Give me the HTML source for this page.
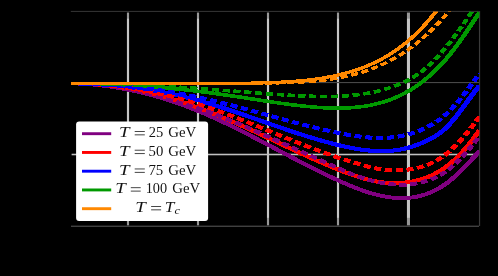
<!DOCTYPE html>
<html><head><meta charset="utf-8"><title>plot</title>
<style>
html,body{margin:0;padding:0;background:#000;}
body{width:498px;height:276px;overflow:hidden;position:relative;font-family:"Liberation Serif",serif;}
svg{position:absolute;left:0;top:0;display:block;will-change:transform;}
.t{font-family:"Liberation Serif",serif;font-size:13.8px;fill:#000;}
.i{font-style:italic;}
</style></head><body>
<svg width="498" height="276" viewBox="0 0 498 276">
<defs>
<clipPath id="ax"><rect x="71" y="11.5" width="408.4" height="215"/></clipPath>
<clipPath id="ax2"><path d="M71,82 H240 V11.5 H479.4 V226.5 H71 Z"/></clipPath>
</defs>
<rect x="0" y="0" width="498" height="276" fill="#000"/>
<!-- grid -->
<rect x="126.92" y="12.6" width="2.15" height="212.8" fill="#c6c6c6"/>
<rect x="196.93" y="12.6" width="2.15" height="212.8" fill="#c6c6c6"/>
<rect x="266.93" y="12.6" width="2.15" height="212.8" fill="#c6c6c6"/>
<rect x="336.93" y="12.6" width="2.15" height="212.8" fill="#c6c6c6"/>
<rect x="406.93" y="12.6" width="3.05" height="212.8" fill="#c4c4c4"/>
<rect x="71" y="12.6" width="408" height="6.1" fill="#000" opacity="0.23"/>
<rect x="71" y="217.8" width="408" height="7.6" fill="#000" opacity="0.23"/>
<rect x="71.6" y="153.72" width="407.6" height="1.56" fill="#c0c0c0"/>
<rect x="71" y="82" width="408.4" height="1.1" fill="#484848"/>
<!-- frame remnants -->
<rect x="70.8" y="10.9" width="408.6" height="1.1" fill="#303030"/>
<rect x="71" y="225.6" width="408" height="1.35" fill="#444444"/>
<rect x="478.95" y="11" width="1.2" height="215" fill="#3a3a3a"/>
<g clip-path="url(#ax2)" shape-rendering="crispEdges"><g transform="scale(1.3,1)">
<path d="M54.62,83.30 L56.15,83.36 L57.69,83.42 L59.23,83.51 L60.77,83.60 L62.31,83.70 L63.85,83.82 L65.38,83.95 L66.92,84.09 L68.46,84.25 L70.00,84.41 L71.54,84.59 L73.08,84.78 L74.62,84.98 L76.15,85.20 L77.69,85.42 L79.23,85.66 L80.77,85.91 L82.31,86.17 L83.85,86.45 L85.38,86.73 L86.92,87.03 L88.46,87.34 L90.00,87.67 L91.54,88.00 L93.08,88.35 L94.62,88.71 L96.15,89.08 L97.69,89.46 L99.23,89.86 L100.77,90.27 L102.31,90.69 L103.85,91.12 L105.38,91.56 L106.92,92.02 L108.46,92.49 L110.00,92.97 L111.54,93.46 L113.08,93.97 L114.62,94.48 L116.15,95.01 L117.69,95.55 L119.23,96.11 L120.77,96.67 L122.31,97.25 L123.85,97.84 L125.38,98.44 L126.92,99.05 L128.46,99.68 L130.00,100.32 L131.54,100.97 L133.08,101.63 L134.62,102.30 L136.15,102.99 L137.69,103.69 L139.23,104.40 L140.77,105.12 L142.31,105.85 L143.85,106.60 L145.38,107.36 L146.92,108.13 L148.46,108.91 L150.00,109.71 L151.54,110.52 L153.08,111.34 L154.62,112.17 L156.15,113.01 L157.69,113.86 L159.23,114.73 L160.77,115.61 L162.31,116.49 L163.85,117.39 L165.38,118.29 L166.92,119.21 L168.46,120.14 L170.00,121.07 L171.54,122.01 L173.08,122.96 L174.62,123.92 L176.15,124.89 L177.69,125.86 L179.23,126.84 L180.77,127.83 L182.31,128.82 L183.85,129.82 L185.38,130.83 L186.92,131.84 L188.46,132.86 L190.00,133.88 L191.54,134.90 L193.08,135.93 L194.62,136.97 L196.15,138.00 L197.69,139.04 L199.23,140.09 L200.77,141.14 L202.31,142.18 L203.85,143.24 L205.38,144.29 L206.92,145.34 L208.46,146.40 L210.00,147.45 L211.54,148.51 L213.08,149.57 L214.62,150.62 L216.15,151.68 L217.69,152.74 L219.23,153.79 L220.77,154.85 L222.31,155.90 L223.85,156.95 L225.38,158.00 L226.92,159.04 L228.46,160.08 L230.00,161.12 L231.54,162.16 L233.08,163.19 L234.62,164.22 L236.15,165.24 L237.69,166.26 L239.23,167.27 L240.77,168.28 L242.31,169.29 L243.85,170.28 L245.38,171.27 L246.92,172.26 L248.46,173.24 L250.00,174.21 L251.54,175.17 L253.08,176.12 L254.62,177.07 L256.15,178.01 L257.69,178.94 L259.23,179.86 L260.77,180.77 L262.31,181.67 L263.85,182.56 L265.38,183.44 L266.92,184.30 L268.46,185.15 L270.00,185.99 L271.54,186.80 L273.08,187.60 L274.62,188.38 L276.15,189.13 L277.69,189.87 L279.23,190.58 L280.77,191.27 L282.31,191.93 L283.85,192.56 L285.38,193.17 L286.92,193.75 L288.46,194.29 L290.00,194.81 L291.54,195.29 L293.08,195.74 L294.62,196.15 L296.15,196.53 L297.69,196.87 L299.23,197.17 L300.77,197.43 L302.31,197.65 L303.85,197.83 L305.38,197.96 L306.92,198.05 L308.46,198.09 L310.00,198.08 L311.54,198.03 L313.08,197.93 L314.62,197.78 L316.15,197.57 L317.69,197.31 L319.23,196.99 L320.77,196.62 L322.31,196.19 L323.85,195.70 L325.38,195.14 L326.92,194.52 L328.46,193.83 L330.00,193.08 L331.54,192.25 L333.08,191.36 L334.62,190.39 L336.15,189.34 L337.69,188.22 L339.23,187.02 L340.77,185.74 L342.31,184.38 L343.85,182.93 L345.38,181.40 L346.92,179.80 L348.46,178.13 L350.00,176.38 L351.54,174.57 L353.08,172.70 L354.62,170.77 L356.15,168.78 L357.69,166.75 L359.23,164.66 L360.77,162.54 L362.31,160.37 L363.85,158.16 L365.38,155.93 L366.92,153.66 L368.46,151.37 L368.85,150.79" fill="none" stroke="#800080" stroke-width="3.9" stroke-linejoin="round"/>
<path d="M54.62,83.30 L56.15,83.30 L57.69,83.32 L59.23,83.35 L60.77,83.40 L62.31,83.45 L63.85,83.52 L65.38,83.61 L66.92,83.70 L68.46,83.81 L70.00,83.93 L71.54,84.06 L73.08,84.21 L74.62,84.37 L76.15,84.54 L77.69,84.73 L79.23,84.92 L80.77,85.13 L82.31,85.35 L83.85,85.59 L85.38,85.83 L86.92,86.09 L88.46,86.36 L90.00,86.64 L91.54,86.94 L93.08,87.24 L94.62,87.56 L96.15,87.89 L97.69,88.23 L99.23,88.59 L100.77,88.95 L102.31,89.33 L103.85,89.72 L105.38,90.12 L106.92,90.53 L108.46,90.96 L110.00,91.39 L111.54,91.84 L113.08,92.30 L114.62,92.77 L116.15,93.25 L117.69,93.74 L119.23,94.25 L120.77,94.76 L122.31,95.29 L123.85,95.82 L125.38,96.37 L126.92,96.93 L128.46,97.50 L130.00,98.08 L131.54,98.67 L133.08,99.27 L134.62,99.88 L136.15,100.51 L137.69,101.14 L139.23,101.78 L140.77,102.44 L142.31,103.10 L143.85,103.78 L145.38,104.47 L146.92,105.16 L148.46,105.87 L150.00,106.58 L151.54,107.31 L153.08,108.05 L154.62,108.80 L156.15,109.55 L157.69,110.32 L159.23,111.09 L160.77,111.88 L162.31,112.67 L163.85,113.47 L165.38,114.28 L166.92,115.10 L168.46,115.92 L170.00,116.76 L171.54,117.60 L173.08,118.45 L174.62,119.30 L176.15,120.16 L177.69,121.03 L179.23,121.90 L180.77,122.78 L182.31,123.67 L183.85,124.56 L185.38,125.45 L186.92,126.35 L188.46,127.25 L190.00,128.16 L191.54,129.08 L193.08,129.99 L194.62,130.92 L196.15,131.84 L197.69,132.77 L199.23,133.70 L200.77,134.63 L202.31,135.57 L203.85,136.50 L205.38,137.44 L206.92,138.38 L208.46,139.33 L210.00,140.27 L211.54,141.22 L213.08,142.16 L214.62,143.11 L216.15,144.05 L217.69,145.00 L219.23,145.94 L220.77,146.88 L222.31,147.82 L223.85,148.76 L225.38,149.70 L226.92,150.64 L228.46,151.57 L230.00,152.50 L231.54,153.42 L233.08,154.34 L234.62,155.26 L236.15,156.17 L237.69,157.08 L239.23,157.99 L240.77,158.88 L242.31,159.78 L243.85,160.66 L245.38,161.54 L246.92,162.42 L248.46,163.28 L250.00,164.14 L251.54,164.99 L253.08,165.84 L254.62,166.67 L256.15,167.50 L257.69,168.32 L259.23,169.12 L260.77,169.92 L262.31,170.71 L263.85,171.49 L265.38,172.25 L266.92,173.00 L268.46,173.73 L270.00,174.45 L271.54,175.14 L273.08,175.82 L274.62,176.47 L276.15,177.11 L277.69,177.71 L279.23,178.30 L280.77,178.85 L282.31,179.38 L283.85,179.88 L285.38,180.34 L286.92,180.78 L288.46,181.18 L290.00,181.55 L291.54,181.88 L293.08,182.17 L294.62,182.42 L296.15,182.63 L297.69,182.81 L299.23,182.94 L300.77,183.04 L302.31,183.09 L303.85,183.11 L305.38,183.08 L306.92,183.01 L308.46,182.90 L310.00,182.75 L311.54,182.56 L313.08,182.32 L314.62,182.04 L316.15,181.72 L317.69,181.35 L319.23,180.93 L320.77,180.47 L322.31,179.95 L323.85,179.37 L325.38,178.74 L326.92,178.06 L328.46,177.31 L330.00,176.50 L331.54,175.63 L333.08,174.69 L334.62,173.68 L336.15,172.60 L337.69,171.45 L339.23,170.22 L340.77,168.92 L342.31,167.54 L343.85,166.08 L345.38,164.54 L346.92,162.92 L348.46,161.21 L350.00,159.42 L351.54,157.54 L353.08,155.57 L354.62,153.51 L356.15,151.36 L357.69,149.12 L359.23,146.79 L360.77,144.36 L362.31,141.83 L363.85,139.21 L365.38,136.49 L366.92,133.66 L368.46,130.74 L368.85,129.99" fill="none" stroke="#ff0000" stroke-width="4.0" stroke-linejoin="round"/>
<path d="M54.62,83.30 L56.15,83.33 L57.69,83.36 L59.23,83.40 L60.77,83.45 L62.31,83.51 L63.85,83.57 L65.38,83.64 L66.92,83.71 L68.46,83.80 L70.00,83.89 L71.54,83.99 L73.08,84.09 L74.62,84.20 L76.15,84.32 L77.69,84.45 L79.23,84.59 L80.77,84.73 L82.31,84.88 L83.85,85.03 L85.38,85.20 L86.92,85.37 L88.46,85.55 L90.00,85.74 L91.54,85.94 L93.08,86.14 L94.62,86.35 L96.15,86.57 L97.69,86.80 L99.23,87.03 L100.77,87.28 L102.31,87.53 L103.85,87.79 L105.38,88.05 L106.92,88.33 L108.46,88.62 L110.00,88.91 L111.54,89.21 L113.08,89.52 L114.62,89.84 L116.15,90.16 L117.69,90.50 L119.23,90.84 L120.77,91.20 L122.31,91.56 L123.85,91.93 L125.38,92.31 L126.92,92.69 L128.46,93.09 L130.00,93.49 L131.54,93.91 L133.08,94.33 L134.62,94.76 L136.15,95.21 L137.69,95.66 L139.23,96.12 L140.77,96.59 L142.31,97.06 L143.85,97.55 L145.38,98.05 L146.92,98.56 L148.46,99.07 L150.00,99.60 L151.54,100.13 L153.08,100.68 L154.62,101.23 L156.15,101.80 L157.69,102.37 L159.23,102.95 L160.77,103.54 L162.31,104.14 L163.85,104.74 L165.38,105.35 L166.92,105.97 L168.46,106.60 L170.00,107.23 L171.54,107.87 L173.08,108.51 L174.62,109.16 L176.15,109.82 L177.69,110.48 L179.23,111.15 L180.77,111.82 L182.31,112.49 L183.85,113.17 L185.38,113.85 L186.92,114.53 L188.46,115.22 L190.00,115.91 L191.54,116.60 L193.08,117.30 L194.62,117.99 L196.15,118.69 L197.69,119.39 L199.23,120.09 L200.77,120.78 L202.31,121.48 L203.85,122.18 L205.38,122.88 L206.92,123.58 L208.46,124.28 L210.00,124.97 L211.54,125.67 L213.08,126.36 L214.62,127.05 L216.15,127.74 L217.69,128.42 L219.23,129.11 L220.77,129.79 L222.31,130.46 L223.85,131.13 L225.38,131.80 L226.92,132.46 L228.46,133.12 L230.00,133.77 L231.54,134.41 L233.08,135.05 L234.62,135.69 L236.15,136.32 L237.69,136.94 L239.23,137.55 L240.77,138.16 L242.31,138.76 L243.85,139.35 L245.38,139.93 L246.92,140.51 L248.46,141.07 L250.00,141.63 L251.54,142.18 L253.08,142.71 L254.62,143.24 L256.15,143.76 L257.69,144.27 L259.23,144.76 L260.77,145.25 L262.31,145.72 L263.85,146.18 L265.38,146.63 L266.92,147.06 L268.46,147.47 L270.00,147.87 L271.54,148.25 L273.08,148.61 L274.62,148.95 L276.15,149.27 L277.69,149.57 L279.23,149.85 L280.77,150.10 L282.31,150.32 L283.85,150.52 L285.38,150.69 L286.92,150.84 L288.46,150.96 L290.00,151.04 L291.54,151.09 L293.08,151.12 L294.62,151.11 L296.15,151.06 L297.69,150.98 L299.23,150.86 L300.77,150.71 L302.31,150.52 L303.85,150.28 L305.38,150.01 L306.92,149.70 L308.46,149.34 L310.00,148.94 L311.54,148.50 L313.08,148.01 L314.62,147.48 L316.15,146.89 L317.69,146.26 L319.23,145.59 L320.77,144.87 L322.31,144.10 L323.85,143.28 L325.38,142.42 L326.92,141.51 L328.46,140.56 L330.00,139.55 L331.54,138.51 L333.08,137.40 L334.62,136.23 L336.15,134.97 L337.69,133.61 L339.23,132.14 L340.77,130.53 L342.31,128.77 L343.85,126.86 L345.38,124.79 L346.92,122.59 L348.46,120.27 L350.00,117.85 L351.54,115.34 L353.08,112.75 L354.62,110.11 L356.15,107.42 L357.69,104.70 L359.23,101.97 L360.77,99.24 L362.31,96.52 L363.85,93.83 L365.38,91.19 L366.92,88.61 L368.46,86.11 L368.85,85.50" fill="none" stroke="#0000ff" stroke-width="4.1" stroke-linejoin="round"/>
<path d="M54.62,83.30 L56.15,83.30 L57.69,83.30 L59.23,83.31 L60.77,83.32 L62.31,83.34 L63.85,83.36 L65.38,83.38 L66.92,83.41 L68.46,83.45 L70.00,83.48 L71.54,83.53 L73.08,83.57 L74.62,83.63 L76.15,83.68 L77.69,83.74 L79.23,83.81 L80.77,83.87 L82.31,83.95 L83.85,84.02 L85.38,84.10 L86.92,84.19 L88.46,84.28 L90.00,84.37 L91.54,84.47 L93.08,84.57 L94.62,84.68 L96.15,84.79 L97.69,84.90 L99.23,85.02 L100.77,85.14 L102.31,85.26 L103.85,85.39 L105.38,85.53 L106.92,85.66 L108.46,85.80 L110.00,85.95 L111.54,86.10 L113.08,86.25 L114.62,86.41 L116.15,86.57 L117.69,86.73 L119.23,86.90 L120.77,87.07 L122.31,87.24 L123.85,87.42 L125.38,87.60 L126.92,87.79 L128.46,87.97 L130.00,88.17 L131.54,88.36 L133.08,88.56 L134.62,88.76 L136.15,88.97 L137.69,89.18 L139.23,89.39 L140.77,89.61 L142.31,89.83 L143.85,90.05 L145.38,90.28 L146.92,90.51 L148.46,90.74 L150.00,90.98 L151.54,91.22 L153.08,91.46 L154.62,91.71 L156.15,91.95 L157.69,92.21 L159.23,92.46 L160.77,92.72 L162.31,92.98 L163.85,93.25 L165.38,93.51 L166.92,93.78 L168.46,94.06 L170.00,94.33 L171.54,94.61 L173.08,94.90 L174.62,95.18 L176.15,95.47 L177.69,95.76 L179.23,96.05 L180.77,96.35 L182.31,96.65 L183.85,96.95 L185.38,97.25 L186.92,97.56 L188.46,97.87 L190.00,98.17 L191.54,98.48 L193.08,98.79 L194.62,99.10 L196.15,99.41 L197.69,99.72 L199.23,100.02 L200.77,100.33 L202.31,100.64 L203.85,100.94 L205.38,101.24 L206.92,101.54 L208.46,101.84 L210.00,102.13 L211.54,102.43 L213.08,102.71 L214.62,103.00 L216.15,103.28 L217.69,103.56 L219.23,103.83 L220.77,104.10 L222.31,104.36 L223.85,104.62 L225.38,104.87 L226.92,105.12 L228.46,105.36 L230.00,105.59 L231.54,105.82 L233.08,106.04 L234.62,106.25 L236.15,106.45 L237.69,106.65 L239.23,106.83 L240.77,107.01 L242.31,107.18 L243.85,107.33 L245.38,107.48 L246.92,107.61 L248.46,107.72 L250.00,107.83 L251.54,107.92 L253.08,108.00 L254.62,108.06 L256.15,108.10 L257.69,108.13 L259.23,108.14 L260.77,108.13 L262.31,108.11 L263.85,108.07 L265.38,108.00 L266.92,107.92 L268.46,107.81 L270.00,107.69 L271.54,107.54 L273.08,107.37 L274.62,107.17 L276.15,106.95 L277.69,106.71 L279.23,106.44 L280.77,106.15 L282.31,105.82 L283.85,105.47 L285.38,105.09 L286.92,104.67 L288.46,104.23 L290.00,103.75 L291.54,103.24 L293.08,102.69 L294.62,102.11 L296.15,101.48 L297.69,100.82 L299.23,100.13 L300.77,99.39 L302.31,98.60 L303.85,97.78 L305.38,96.91 L306.92,96.00 L308.46,95.05 L310.00,94.04 L311.54,92.99 L313.08,91.89 L314.62,90.74 L316.15,89.54 L317.69,88.29 L319.23,86.98 L320.77,85.62 L322.31,84.20 L323.85,82.73 L325.38,81.21 L326.92,79.62 L328.46,77.97 L330.00,76.27 L331.54,74.50 L333.08,72.67 L334.62,70.78 L336.15,68.81 L337.69,66.78 L339.23,64.68 L340.77,62.50 L342.31,60.24 L343.85,57.91 L345.38,55.50 L346.92,53.01 L348.46,50.46 L350.00,47.84 L351.54,45.16 L353.08,42.42 L354.62,39.63 L356.15,36.78 L357.69,33.88 L359.23,30.95 L360.77,27.97 L362.31,24.97 L363.85,21.94 L365.38,18.89 L366.92,15.83 L368.46,12.76 L368.85,11.99" fill="none" stroke="#009900" stroke-width="3.6" stroke-linejoin="round"/>
<path d="M54.62,83.30 L56.15,83.30 L57.69,83.32 L59.23,83.35 L60.77,83.40 L62.31,83.46 L63.85,83.54 L65.38,83.62 L66.92,83.73 L68.46,83.84 L70.00,83.97 L71.54,84.12 L73.08,84.27 L74.62,84.44 L76.15,84.63 L77.69,84.82 L79.23,85.03 L80.77,85.26 L82.31,85.49 L83.85,85.74 L85.38,86.00 L86.92,86.27 L88.46,86.56 L90.00,86.86 L91.54,87.17 L93.08,87.49 L94.62,87.82 L96.15,88.17 L97.69,88.53 L99.23,88.89 L100.77,89.27 L102.31,89.67 L103.85,90.07 L105.38,90.48 L106.92,90.91 L108.46,91.35 L110.00,91.79 L111.54,92.25 L113.08,92.72 L114.62,93.20 L116.15,93.69 L117.69,94.19 L119.23,94.70 L120.77,95.22 L122.31,95.75 L123.85,96.29 L125.38,96.84 L126.92,97.40 L128.46,97.97 L130.00,98.55 L131.54,99.14 L133.08,99.74 L134.62,100.34 L136.15,100.96 L137.69,101.58 L139.23,102.22 L140.77,102.86 L142.31,103.51 L143.85,104.17 L145.38,104.84 L146.92,105.51 L148.46,106.20 L150.00,106.89 L151.54,107.59 L153.08,108.30 L154.62,109.02 L156.15,109.74 L157.69,110.47 L159.23,111.21 L160.77,111.95 L162.31,112.71 L163.85,113.47 L165.38,114.23 L166.92,115.01 L168.46,115.78 L170.00,116.57 L171.54,117.36 L173.08,118.16 L174.62,118.96 L176.15,119.77 L177.69,120.58 L179.23,121.40 L180.77,122.23 L182.31,123.06 L183.85,123.89 L185.38,124.73 L186.92,125.58 L188.46,126.43 L190.00,127.28 L191.54,128.14 L193.08,129.00 L194.62,129.86 L196.15,130.73 L197.69,131.60 L199.23,132.48 L200.77,133.36 L202.31,134.24 L203.85,135.12 L205.38,136.01 L206.92,136.90 L208.46,137.79 L210.00,138.69 L211.54,139.59 L213.08,140.49 L214.62,141.39 L216.15,142.29 L217.69,143.19 L219.23,144.10 L220.77,145.01 L222.31,145.92 L223.85,146.83 L225.38,147.74 L226.92,148.65 L228.46,149.56 L230.00,150.47 L231.54,151.38 L233.08,152.30 L234.62,153.21 L236.15,154.12 L237.69,155.03 L239.23,155.94 L240.77,156.85 L242.31,157.76 L243.85,158.67 L245.38,159.58 L246.92,160.49 L248.46,161.39 L250.00,162.29 L251.54,163.20 L253.08,164.10 L254.62,164.99 L256.15,165.89 L257.69,166.78 L259.23,167.67 L260.77,168.56 L262.31,169.45 L263.85,170.32 L265.38,171.19 L266.92,172.05 L268.46,172.89 L270.00,173.71 L271.54,174.51 L273.08,175.29 L274.62,176.03 L276.15,176.76 L277.69,177.44 L279.23,178.10 L280.77,178.73 L282.31,179.33 L283.85,179.90 L285.38,180.44 L286.92,180.95 L288.46,181.42 L290.00,181.87 L291.54,182.29 L293.08,182.69 L294.62,183.05 L296.15,183.38 L297.69,183.68 L299.23,183.94 L300.77,184.17 L302.31,184.37 L303.85,184.52 L305.38,184.64 L306.92,184.71 L308.46,184.75 L310.00,184.73 L311.54,184.68 L313.08,184.58 L314.62,184.43 L316.15,184.23 L317.69,183.98 L319.23,183.68 L320.77,183.33 L322.31,182.92 L323.85,182.47 L325.38,181.95 L326.92,181.39 L328.46,180.77 L330.00,180.09 L331.54,179.35 L333.08,178.55 L334.62,177.69 L336.15,176.75 L337.69,175.72 L339.23,174.61 L340.77,173.41 L342.31,172.10 L343.85,170.69 L345.38,169.17 L346.92,167.56 L348.46,165.84 L350.00,164.04 L351.54,162.15 L353.08,160.17 L354.62,158.11 L356.15,155.98 L357.69,153.77 L359.23,151.50 L360.77,149.16 L362.31,146.77 L363.85,144.31 L365.38,141.81 L366.92,139.25 L368.46,136.65 L368.85,136.00" fill="none" stroke="#800080" stroke-width="3.9" stroke-dasharray="5.55 2.8" stroke-linejoin="round"/>
<path d="M54.62,83.30 L56.15,83.33 L57.69,83.37 L59.23,83.42 L60.77,83.48 L62.31,83.55 L63.85,83.63 L65.38,83.72 L66.92,83.81 L68.46,83.92 L70.00,84.03 L71.54,84.16 L73.08,84.29 L74.62,84.44 L76.15,84.59 L77.69,84.75 L79.23,84.92 L80.77,85.10 L82.31,85.29 L83.85,85.49 L85.38,85.70 L86.92,85.92 L88.46,86.14 L90.00,86.38 L91.54,86.63 L93.08,86.88 L94.62,87.15 L96.15,87.42 L97.69,87.71 L99.23,88.00 L100.77,88.31 L102.31,88.62 L103.85,88.94 L105.38,89.27 L106.92,89.62 L108.46,89.97 L110.00,90.33 L111.54,90.70 L113.08,91.08 L114.62,91.47 L116.15,91.87 L117.69,92.28 L119.23,92.70 L120.77,93.13 L122.31,93.56 L123.85,94.01 L125.38,94.47 L126.92,94.94 L128.46,95.42 L130.00,95.90 L131.54,96.40 L133.08,96.91 L134.62,97.43 L136.15,97.95 L137.69,98.49 L139.23,99.04 L140.77,99.59 L142.31,100.16 L143.85,100.73 L145.38,101.32 L146.92,101.92 L148.46,102.52 L150.00,103.14 L151.54,103.77 L153.08,104.40 L154.62,105.05 L156.15,105.70 L157.69,106.37 L159.23,107.04 L160.77,107.73 L162.31,108.42 L163.85,109.12 L165.38,109.82 L166.92,110.54 L168.46,111.26 L170.00,111.99 L171.54,112.73 L173.08,113.47 L174.62,114.22 L176.15,114.98 L177.69,115.74 L179.23,116.51 L180.77,117.28 L182.31,118.06 L183.85,118.84 L185.38,119.62 L186.92,120.41 L188.46,121.21 L190.00,122.01 L191.54,122.81 L193.08,123.61 L194.62,124.42 L196.15,125.23 L197.69,126.04 L199.23,126.85 L200.77,127.67 L202.31,128.49 L203.85,129.30 L205.38,130.12 L206.92,130.94 L208.46,131.76 L210.00,132.58 L211.54,133.40 L213.08,134.22 L214.62,135.04 L216.15,135.85 L217.69,136.67 L219.23,137.48 L220.77,138.29 L222.31,139.10 L223.85,139.91 L225.38,140.72 L226.92,141.52 L228.46,142.32 L230.00,143.11 L231.54,143.90 L233.08,144.69 L234.62,145.47 L236.15,146.25 L237.69,147.02 L239.23,147.79 L240.77,148.56 L242.31,149.31 L243.85,150.06 L245.38,150.81 L246.92,151.55 L248.46,152.28 L250.00,153.00 L251.54,153.72 L253.08,154.43 L254.62,155.13 L256.15,155.82 L257.69,156.51 L259.23,157.18 L260.77,157.85 L262.31,158.51 L263.85,159.16 L265.38,159.80 L266.92,160.43 L268.46,161.06 L270.00,161.67 L271.54,162.28 L273.08,162.89 L274.62,163.48 L276.15,164.07 L277.69,164.66 L279.23,165.23 L280.77,165.79 L282.31,166.33 L283.85,166.85 L285.38,167.34 L286.92,167.81 L288.46,168.24 L290.00,168.64 L291.54,169.00 L293.08,169.32 L294.62,169.60 L296.15,169.84 L297.69,170.03 L299.23,170.18 L300.77,170.29 L302.31,170.36 L303.85,170.39 L305.38,170.37 L306.92,170.32 L308.46,170.22 L310.00,170.09 L311.54,169.91 L313.08,169.70 L314.62,169.45 L316.15,169.16 L317.69,168.82 L319.23,168.44 L320.77,168.00 L322.31,167.52 L323.85,166.98 L325.38,166.37 L326.92,165.71 L328.46,164.98 L330.00,164.18 L331.54,163.31 L333.08,162.36 L334.62,161.34 L336.15,160.23 L337.69,159.04 L339.23,157.76 L340.77,156.39 L342.31,154.92 L343.85,153.36 L345.38,151.70 L346.92,149.95 L348.46,148.11 L350.00,146.18 L351.54,144.16 L353.08,142.07 L354.62,139.90 L356.15,137.64 L357.69,135.32 L359.23,132.92 L360.77,130.46 L362.31,127.93 L363.85,125.33 L365.38,122.68 L366.92,119.96 L368.46,117.19 L368.85,116.49" fill="none" stroke="#ff0000" stroke-width="4.0" stroke-dasharray="5.55 2.8" stroke-linejoin="round"/>
<path d="M54.62,83.30 L56.15,83.33 L57.69,83.37 L59.23,83.42 L60.77,83.47 L62.31,83.52 L63.85,83.58 L65.38,83.65 L66.92,83.72 L68.46,83.80 L70.00,83.88 L71.54,83.97 L73.08,84.06 L74.62,84.16 L76.15,84.26 L77.69,84.38 L79.23,84.49 L80.77,84.61 L82.31,84.74 L83.85,84.88 L85.38,85.02 L86.92,85.16 L88.46,85.31 L90.00,85.47 L91.54,85.63 L93.08,85.80 L94.62,85.98 L96.15,86.16 L97.69,86.35 L99.23,86.54 L100.77,86.74 L102.31,86.95 L103.85,87.16 L105.38,87.38 L106.92,87.61 L108.46,87.84 L110.00,88.08 L111.54,88.32 L113.08,88.57 L114.62,88.83 L116.15,89.09 L117.69,89.37 L119.23,89.64 L120.77,89.93 L122.31,90.22 L123.85,90.51 L125.38,90.82 L126.92,91.13 L128.46,91.44 L130.00,91.77 L131.54,92.10 L133.08,92.44 L134.62,92.78 L136.15,93.13 L137.69,93.49 L139.23,93.86 L140.77,94.23 L142.31,94.61 L143.85,95.00 L145.38,95.39 L146.92,95.79 L148.46,96.20 L150.00,96.61 L151.54,97.04 L153.08,97.47 L154.62,97.90 L156.15,98.35 L157.69,98.80 L159.23,99.25 L160.77,99.72 L162.31,100.19 L163.85,100.66 L165.38,101.14 L166.92,101.63 L168.46,102.12 L170.00,102.62 L171.54,103.12 L173.08,103.63 L174.62,104.14 L176.15,104.65 L177.69,105.17 L179.23,105.69 L180.77,106.22 L182.31,106.75 L183.85,107.28 L185.38,107.82 L186.92,108.35 L188.46,108.89 L190.00,109.44 L191.54,109.98 L193.08,110.53 L194.62,111.07 L196.15,111.62 L197.69,112.17 L199.23,112.72 L200.77,113.28 L202.31,113.83 L203.85,114.38 L205.38,114.93 L206.92,115.48 L208.46,116.04 L210.00,116.59 L211.54,117.14 L213.08,117.69 L214.62,118.23 L216.15,118.78 L217.69,119.33 L219.23,119.87 L220.77,120.41 L222.31,120.95 L223.85,121.48 L225.38,122.02 L226.92,122.54 L228.46,123.07 L230.00,123.59 L231.54,124.11 L233.08,124.63 L234.62,125.14 L236.15,125.65 L237.69,126.15 L239.23,126.65 L240.77,127.14 L242.31,127.63 L243.85,128.11 L245.38,128.59 L246.92,129.06 L248.46,129.52 L250.00,129.98 L251.54,130.43 L253.08,130.88 L254.62,131.32 L256.15,131.75 L257.69,132.17 L259.23,132.59 L260.77,133.00 L262.31,133.39 L263.85,133.79 L265.38,134.16 L266.92,134.53 L268.46,134.89 L270.00,135.23 L271.54,135.56 L273.08,135.87 L274.62,136.16 L276.15,136.43 L277.69,136.69 L279.23,136.93 L280.77,137.14 L282.31,137.33 L283.85,137.50 L285.38,137.64 L286.92,137.76 L288.46,137.85 L290.00,137.91 L291.54,137.95 L293.08,137.95 L294.62,137.92 L296.15,137.86 L297.69,137.77 L299.23,137.64 L300.77,137.48 L302.31,137.28 L303.85,137.04 L305.38,136.76 L306.92,136.45 L308.46,136.09 L310.00,135.69 L311.54,135.25 L313.08,134.76 L314.62,134.23 L316.15,133.65 L317.69,133.02 L319.23,132.35 L320.77,131.62 L322.31,130.85 L323.85,130.03 L325.38,129.15 L326.92,128.22 L328.46,127.23 L330.00,126.19 L331.54,125.09 L333.08,123.93 L334.62,122.70 L336.15,121.40 L337.69,120.01 L339.23,118.52 L340.77,116.94 L342.31,115.26 L343.85,113.46 L345.38,111.55 L346.92,109.54 L348.46,107.43 L350.00,105.23 L351.54,102.95 L353.08,100.59 L354.62,98.17 L356.15,95.67 L357.69,93.12 L359.23,90.52 L360.77,87.88 L362.31,85.19 L363.85,82.47 L365.38,79.73 L366.92,76.97 L368.46,74.19 L368.85,73.49" fill="none" stroke="#0000ff" stroke-width="4.1" stroke-dasharray="5.55 2.8" stroke-linejoin="round"/>
<path d="M54.62,83.30 L56.15,83.30 L57.69,83.31 L59.23,83.32 L60.77,83.34 L62.31,83.35 L63.85,83.37 L65.38,83.39 L66.92,83.42 L68.46,83.45 L70.00,83.48 L71.54,83.51 L73.08,83.55 L74.62,83.59 L76.15,83.63 L77.69,83.67 L79.23,83.72 L80.77,83.77 L82.31,83.82 L83.85,83.88 L85.38,83.94 L86.92,84.00 L88.46,84.06 L90.00,84.12 L91.54,84.19 L93.08,84.26 L94.62,84.33 L96.15,84.41 L97.69,84.48 L99.23,84.56 L100.77,84.64 L102.31,84.73 L103.85,84.81 L105.38,84.90 L106.92,84.99 L108.46,85.08 L110.00,85.17 L111.54,85.27 L113.08,85.37 L114.62,85.47 L116.15,85.57 L117.69,85.67 L119.23,85.78 L120.77,85.89 L122.31,86.00 L123.85,86.11 L125.38,86.22 L126.92,86.33 L128.46,86.45 L130.00,86.57 L131.54,86.69 L133.08,86.81 L134.62,86.93 L136.15,87.06 L137.69,87.18 L139.23,87.31 L140.77,87.44 L142.31,87.57 L143.85,87.70 L145.38,87.84 L146.92,87.97 L148.46,88.11 L150.00,88.25 L151.54,88.39 L153.08,88.53 L154.62,88.67 L156.15,88.81 L157.69,88.95 L159.23,89.10 L160.77,89.24 L162.31,89.39 L163.85,89.54 L165.38,89.69 L166.92,89.84 L168.46,89.99 L170.00,90.14 L171.54,90.30 L173.08,90.45 L174.62,90.61 L176.15,90.76 L177.69,90.92 L179.23,91.08 L180.77,91.23 L182.31,91.39 L183.85,91.55 L185.38,91.71 L186.92,91.87 L188.46,92.03 L190.00,92.19 L191.54,92.35 L193.08,92.51 L194.62,92.66 L196.15,92.82 L197.69,92.98 L199.23,93.13 L200.77,93.29 L202.31,93.44 L203.85,93.59 L205.38,93.74 L206.92,93.88 L208.46,94.03 L210.00,94.17 L211.54,94.31 L213.08,94.45 L214.62,94.59 L216.15,94.72 L217.69,94.85 L219.23,94.97 L220.77,95.09 L222.31,95.21 L223.85,95.33 L225.38,95.44 L226.92,95.55 L228.46,95.65 L230.00,95.75 L231.54,95.85 L233.08,95.94 L234.62,96.02 L236.15,96.10 L237.69,96.18 L239.23,96.24 L240.77,96.31 L242.31,96.36 L243.85,96.41 L245.38,96.44 L246.92,96.47 L248.46,96.49 L250.00,96.50 L251.54,96.50 L253.08,96.48 L254.62,96.46 L256.15,96.42 L257.69,96.37 L259.23,96.31 L260.77,96.23 L262.31,96.14 L263.85,96.03 L265.38,95.91 L266.92,95.77 L268.46,95.62 L270.00,95.45 L271.54,95.26 L273.08,95.05 L274.62,94.83 L276.15,94.58 L277.69,94.32 L279.23,94.03 L280.77,93.73 L282.31,93.40 L283.85,93.04 L285.38,92.67 L286.92,92.26 L288.46,91.84 L290.00,91.38 L291.54,90.90 L293.08,90.39 L294.62,89.84 L296.15,89.27 L297.69,88.67 L299.23,88.03 L300.77,87.37 L302.31,86.66 L303.85,85.93 L305.38,85.15 L306.92,84.34 L308.46,83.49 L310.00,82.59 L311.54,81.64 L313.08,80.65 L314.62,79.60 L316.15,78.49 L317.69,77.32 L319.23,76.09 L320.77,74.79 L322.31,73.43 L323.85,71.99 L325.38,70.48 L326.92,68.89 L328.46,67.22 L330.00,65.46 L331.54,63.62 L333.08,61.69 L334.62,59.68 L336.15,57.58 L337.69,55.42 L339.23,53.18 L340.77,50.87 L342.31,48.50 L343.85,46.06 L345.38,43.57 L346.92,41.02 L348.46,38.41 L350.00,35.76 L351.54,33.05 L353.08,30.29 L354.62,27.49 L356.15,24.64 L357.69,21.74 L359.23,18.80 L360.77,15.82 L362.31,12.79 L363.85,9.71 L365.38,6.60 L366.15,5.02" fill="none" stroke="#009900" stroke-width="3.6" stroke-dasharray="5.55 2.8" stroke-linejoin="round"/>
</g></g>
<g clip-path="url(#ax)" shape-rendering="crispEdges"><g transform="scale(1.3,1)">
<path d="M54.62,83.25 L56.15,83.25 L57.69,83.25 L59.23,83.25 L60.77,83.25 L62.31,83.25 L63.85,83.25 L65.38,83.25 L66.92,83.25 L68.46,83.25 L70.00,83.25 L71.54,83.25 L73.08,83.25 L74.62,83.25 L76.15,83.25 L77.69,83.25 L79.23,83.25 L80.77,83.25 L82.31,83.25 L83.85,83.25 L85.38,83.25 L86.92,83.25 L88.46,83.25 L90.00,83.25 L91.54,83.25 L93.08,83.25 L94.62,83.25 L96.15,83.25 L97.69,83.25 L99.23,83.25 L100.77,83.25 L102.31,83.25 L103.85,83.25 L105.38,83.25 L106.92,83.25 L108.46,83.25 L110.00,83.25 L111.54,83.25 L113.08,83.25 L114.62,83.25 L116.15,83.25 L117.69,83.25 L119.23,83.25 L120.77,83.25 L122.31,83.25 L123.85,83.25 L125.38,83.25 L126.92,83.25 L128.46,83.25 L130.00,83.25 L131.54,83.25 L133.08,83.25 L134.62,83.25 L136.15,83.25 L137.69,83.25 L139.23,83.25 L140.77,83.25 L142.31,83.25 L143.85,83.25 L145.38,83.25 L146.92,83.25 L148.46,83.25 L150.00,83.25 L151.54,83.25 L153.08,83.25 L154.62,83.25 L156.15,83.25 L157.69,83.25 L159.23,83.25 L160.77,83.25 L162.31,83.25 L163.85,83.25 L165.38,83.25 L166.92,83.25 L168.46,83.25 L170.00,83.25 L171.54,83.25 L173.08,83.25 L174.62,83.25 L176.15,83.25 L177.69,83.25 L179.23,83.25 L180.77,83.25 L182.31,83.25 L183.85,83.24 L185.38,83.23 L186.92,83.22 L188.46,83.20 L190.00,83.18 L191.54,83.16 L193.08,83.13 L194.62,83.10 L196.15,83.06 L197.69,83.02 L199.23,82.98 L200.77,82.93 L202.31,82.88 L203.85,82.82 L205.38,82.76 L206.92,82.69 L208.46,82.62 L210.00,82.54 L211.54,82.45 L213.08,82.36 L214.62,82.26 L216.15,82.16 L217.69,82.05 L219.23,81.93 L220.77,81.81 L222.31,81.68 L223.85,81.54 L225.38,81.39 L226.92,81.24 L228.46,81.07 L230.00,80.90 L231.54,80.71 L233.08,80.52 L234.62,80.32 L236.15,80.10 L237.69,79.87 L239.23,79.64 L240.77,79.39 L242.31,79.12 L243.85,78.85 L245.38,78.56 L246.92,78.25 L248.46,77.93 L250.00,77.60 L251.54,77.25 L253.08,76.89 L254.62,76.50 L256.15,76.10 L257.69,75.68 L259.23,75.25 L260.77,74.79 L262.31,74.31 L263.85,73.81 L265.38,73.30 L266.92,72.75 L268.46,72.19 L270.00,71.60 L271.54,70.99 L273.08,70.35 L274.62,69.69 L276.15,68.99 L277.69,68.28 L279.23,67.53 L280.77,66.75 L282.31,65.94 L283.85,65.10 L285.38,64.23 L286.92,63.33 L288.46,62.39 L290.00,61.42 L291.54,60.41 L293.08,59.36 L294.62,58.27 L296.15,57.15 L297.69,55.98 L299.23,54.78 L300.77,53.53 L302.31,52.24 L303.85,50.90 L305.38,49.51 L306.92,48.08 L308.46,46.60 L310.00,45.07 L311.54,43.49 L313.08,41.85 L314.62,40.16 L316.15,38.42 L317.69,36.62 L319.23,34.76 L320.77,32.84 L322.31,30.86 L323.85,28.82 L325.38,26.71 L326.92,24.54 L328.46,22.30 L330.00,20.00 L331.54,17.62 L333.08,15.17 L334.62,12.64 L336.15,10.04 L337.69,7.36 L339.23,4.61 L340.77,1.77 L342.31,-1.15 L343.85,-4.15 L345.38,-7.24 L346.92,-10.42 L348.46,-13.69 L350.00,-17.06 L351.54,-20.51 L353.08,-24.07" fill="none" stroke="#ff8800" stroke-width="3.25" stroke-linejoin="round"/>
<path d="M187.31,83.24 L188.85,83.24 L190.38,83.23 L191.92,83.22 L193.46,83.22 L195.00,83.21 L196.54,83.19 L198.08,83.18 L199.62,83.17 L201.15,83.15 L202.69,83.13 L204.23,83.11 L205.77,83.08 L207.31,83.06 L208.85,83.03 L210.38,82.99 L211.92,82.96 L213.46,82.92 L215.00,82.87 L216.54,82.82 L218.08,82.77 L219.62,82.71 L221.15,82.65 L222.69,82.58 L224.23,82.50 L225.77,82.42 L227.31,82.33 L228.85,82.23 L230.38,82.13 L231.92,82.02 L233.46,81.90 L235.00,81.77 L236.54,81.63 L238.08,81.48 L239.62,81.32 L241.15,81.15 L242.69,80.97 L244.23,80.78 L245.77,80.57 L247.31,80.36 L248.85,80.12 L250.38,79.88 L251.92,79.62 L253.46,79.34 L255.00,79.05 L256.54,78.75 L258.08,78.42 L259.62,78.08 L261.15,77.72 L262.69,77.34 L264.23,76.95 L265.77,76.53 L267.31,76.09 L268.85,75.63 L270.38,75.15 L271.92,74.65 L273.46,74.12 L275.00,73.57 L276.54,73.00 L278.08,72.40 L279.62,71.77 L281.15,71.12 L282.69,70.44 L284.23,69.73 L285.77,69.00 L287.31,68.23 L288.85,67.44 L290.38,66.61 L291.92,65.76 L293.46,64.87 L295.00,63.94 L296.54,62.99 L298.08,62.00 L299.62,60.97 L301.15,59.91 L302.69,58.81 L304.23,57.68 L305.77,56.51 L307.31,55.30 L308.85,54.05 L310.38,52.76 L311.92,51.43 L313.46,50.06 L315.00,48.64 L316.54,47.19 L318.08,45.69 L319.62,44.14 L321.15,42.55 L322.69,40.92 L324.23,39.24 L325.77,37.51 L327.31,35.74 L328.85,33.92 L330.38,32.05 L331.92,30.13 L333.46,28.16 L335.00,26.14 L336.54,24.07 L338.08,21.95 L339.62,19.77 L341.15,17.55 L342.69,15.26 L344.23,12.93 L345.77,10.54 L347.31,8.10 L348.85,5.60 L350.38,3.04 L351.92,0.43 L353.46,-2.23" fill="none" stroke="#ff8800" stroke-width="3.25" stroke-dasharray="5.55 2.8" stroke-linejoin="round"/>
</g></g>
<!-- legend -->
<rect x="76.1" y="121.6" width="132.0" height="99.3" rx="3.1" ry="3.0" fill="#fff"/>
<rect x="82" y="132.25" width="29.2" height="2.9" fill="#800080"/>
<rect x="82" y="151.00" width="29.2" height="2.9" fill="#ff0000"/>
<rect x="82" y="169.75" width="29.2" height="2.9" fill="#0000ff"/>
<rect x="82" y="188.50" width="29.2" height="2.9" fill="#009900"/>
<rect x="82" y="207.25" width="29.2" height="2.9" fill="#ff8800"/>
<g opacity="0.92">
<text class="t i" style="font-size:13.8px" transform="translate(118.95,137.00) scale(1.373,1)">T</text>
<rect x="134.7" y="131.00" width="10.10" height="0.9" fill="#222"/><rect x="134.7" y="134.40" width="10.10" height="0.9" fill="#222"/>
<text class="t" style="font-size:13.8px" transform="translate(148.76,137.00) scale(1.051,1)">25</text>
<text class="t" style="font-size:13.8px" transform="translate(168.29,137.00) scale(1.077,1)">GeV</text>
<text class="t i" style="font-size:13.8px" transform="translate(118.95,155.75) scale(1.373,1)">T</text>
<rect x="134.7" y="149.75" width="10.10" height="0.9" fill="#222"/><rect x="134.7" y="153.15" width="10.10" height="0.9" fill="#222"/>
<text class="t" style="font-size:13.8px" transform="translate(148.55,155.75) scale(1.066,1)">50</text>
<text class="t" style="font-size:13.8px" transform="translate(168.29,155.75) scale(1.077,1)">GeV</text>
<text class="t i" style="font-size:13.8px" transform="translate(118.95,174.50) scale(1.373,1)">T</text>
<rect x="134.7" y="168.50" width="10.10" height="0.9" fill="#222"/><rect x="134.7" y="171.90" width="10.10" height="0.9" fill="#222"/>
<text class="t" style="font-size:13.8px" transform="translate(148.42,174.50) scale(1.077,1)">75</text>
<text class="t" style="font-size:13.8px" transform="translate(168.29,174.50) scale(1.077,1)">GeV</text>
<text class="t i" style="font-size:13.8px" transform="translate(115.25,193.25) scale(1.373,1)">T</text>
<rect x="130.8" y="187.25" width="9.90" height="0.9" fill="#222"/><rect x="130.8" y="190.65" width="9.90" height="0.9" fill="#222"/>
<text class="t" style="font-size:13.8px" transform="translate(145.74,193.25) scale(1.034,1)">100</text>
<text class="t" style="font-size:13.8px" transform="translate(172.19,193.25) scale(1.074,1)">GeV</text>
<text class="t i" style="font-size:13.8px" transform="translate(135.35,212.00) scale(1.373,1)">T</text>
<rect x="151.1" y="206.00" width="10.00" height="0.9" fill="#222"/><rect x="151.1" y="209.40" width="10.00" height="0.9" fill="#222"/>
<text class="t i" style="font-size:13.8px" transform="translate(164.66,212.00) scale(1.254,1)">T</text>
<text class="t i" style="font-size:9.8px" transform="translate(174.61,214.10) scale(1.269,1)">c</text>
</g>
</svg>
</body></html>
